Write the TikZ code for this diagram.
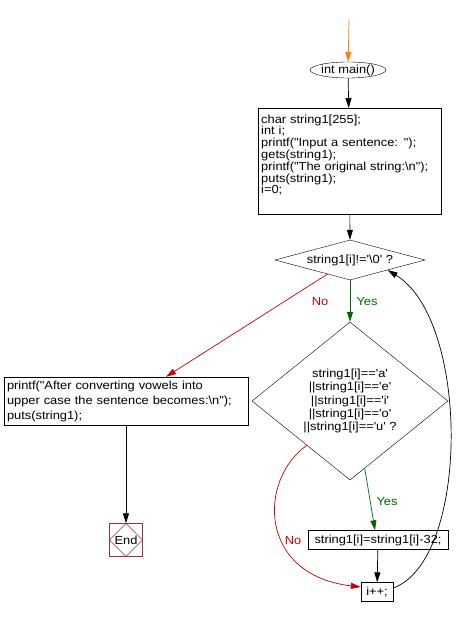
\documentclass[tikz,border=0pt]{standalone}
\usepackage{fontspec}
\setmainfont{Liberation Sans}[Ligatures=TeXOff, FakeStretch=1.1]
\usetikzlibrary{shapes.geometric,arrows.meta,calc}
\definecolor{flowred}{HTML}{CC0000}
\definecolor{flowgreen}{HTML}{006600}
\definecolor{flowmaroon}{HTML}{993344}
\begin{document}
\begin{tikzpicture}[x=1pt, y=-1pt,
  font=\fontsize{11.7}{11.8}\selectfont,
  term/.style={ellipse, draw, minimum width=70pt, minimum height=16pt, inner sep=0pt},
  block/.style={rectangle, draw, align=left, inner xsep=3pt, inner ysep=2pt},
  test/.style={diamond, draw, inner sep=0pt, align=center},
  stop/.style={rectangle, draw=flowmaroon, minimum size=33pt, inner sep=0pt,
    path picture={\draw[flowmaroon] (path picture bounding box.north) -- (path picture bounding box.east)
      -- (path picture bounding box.south) -- (path picture bounding box.west) -- cycle;}},
  arrow/.style={-{Triangle[length=10pt,width=6pt]}, line width=0.7pt},
  yes/.style={arrow, draw=flowgreen},
  no/.style={arrow, draw=flowred},
  lbl/.style={font=\fontsize{11.7}{12}\selectfont}
]
  \useasboundingbox (0,0) rectangle (465,617);
  \coordinate (start) at (349,20);
  \node[term] (main) at (348,70) {int main()};
  \node[block, anchor=north west, text width=177pt, minimum height=106pt] (init) at (258,108)
    {char string1[255];\\ int i;\\ printf("Input a sentence: ");\\ gets(string1);\\
     printf("The original string:\textbackslash n");\\ puts(string1);\\ i=0;\rule[-14pt]{0pt}{0pt}};
  \node[test, aspect=3.75, minimum width=150pt, minimum height=40pt] (cond) at (350,260) {string1[i]!='\textbackslash 0' ?};
  \node[test, aspect=1.24, minimum width=196pt, minimum height=158pt, font=\fontsize{11.7}{13.3}\selectfont] (vowel) at (350,401)
    {string1[i]=='a'\\ ||string1[i]=='e'\\ ||string1[i]=='i'\\ ||string1[i]=='o'\\ ||string1[i]=='u' ?};
  \node[block, minimum width=244pt, minimum height=48pt, text width=238pt, font=\fontsize{11.7}{15}\selectfont] (out) at (126,401)
    {printf("After converting vowels into\\ upper case the sentence becomes:\textbackslash n");\\ puts(string1);};
  \node[stop] (end) at (126,540) {End};
  \node[block, minimum width=140pt, minimum height=19pt, inner xsep=1pt, inner ysep=0pt, align=center] (upper) at (378,540) {string1[i]=string1[i]-32;};
  \node[block, minimum width=32pt, minimum height=19pt, inner ysep=0pt, align=center] (inc) at (377,592) {i++;};

  \draw[arrow, draw=orange] (start) -- (main);
  \draw[arrow] (main) -- (init);
  \draw[arrow] (init) -- (cond);
  \draw[yes] (cond) -- (vowel);
  \node[lbl, text=flowgreen] at (367,302) {Yes};
  \draw[no] ($(cond.south)!0.3!(cond.west)$) -- ([xshift=40pt]out.north);
  \node[lbl, text=flowred] at (320,302) {No};
  \draw[yes] ($(vowel.south)!0.15!(vowel.east)$) -- ([xshift=-3pt]upper.north);
  \node[lbl, text=flowgreen] at (387,502) {Yes};
  \draw[no] ($(vowel.south)!0.44!(vowel.west)$) .. controls (258,480) and (258,575) .. ([yshift=5pt]inc.west);
  \node[lbl, text=flowred] at (293,541) {No};
  \draw[arrow] (upper) -- (inc);
  \draw[arrow] ([yshift=4pt]inc.east) .. controls (470,560) and (470,320) .. ($(cond.south)!0.5!(cond.east)$);
  \draw[arrow] (out) -- (end);
\end{tikzpicture}
\end{document}
